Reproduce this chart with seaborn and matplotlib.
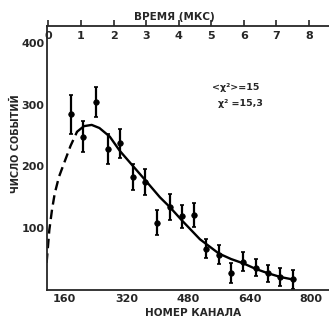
import matplotlib
matplotlib.use("Agg")
import matplotlib.pyplot as plt
import numpy as np
import pandas as pd
import seaborn as sns

# ---- data ----
channels = [176, 208, 240, 272, 304, 336, 368, 400, 432, 464,
            496, 528, 560, 592, 624, 656, 688, 720, 752]
counts = [284, 248, 304, 228, 237, 182, 175, 109, 135, 119,
          121, 67, 57, 28, 46, 36, 27, 21, 17]
errors = [31, 25, 25, 24, 24, 21, 21, 20, 21, 19,
          19, 16, 15, 16, 15, 14, 14, 14, 15]

fit_dash_channel = [113, 120, 127, 134, 145, 160, 175, 192]
fit_dash_value = [44, 97, 130, 156, 183, 208, 233, 256]
fit_solid_channel = [192, 210, 230, 250, 277, 303, 342, 370, 407, 433,
                     465, 511, 560, 592, 624, 656, 688, 720, 752]
fit_solid_value = [256, 265, 267, 262, 248, 225, 197, 177, 150, 134,
                   112, 82, 59, 50, 43, 34, 27, 21, 17]

x_ticks = [160, 320, 480, 640, 800]
y_ticks = [100, 200, 300, 400]
time_ticks = [0, 1, 2, 3, 4, 5, 6, 7, 8]

sns.set_style("white")
plt.rcParams["font.family"] = ["DejaVu Sans"]

pts = pd.DataFrame({"channel": channels, "count": counts, "err": errors})
dash = pd.DataFrame({"channel": fit_dash_channel, "value": fit_dash_value})
solid = pd.DataFrame({"channel": fit_solid_channel, "value": fit_solid_value})

fig = plt.figure(figsize=(3.29, 3.20), dpi=100)
ax = fig.add_axes([0.1429, 0.0938, 0.8571, 0.825])

sns.lineplot(data=dash, x="channel", y="value", ax=ax, color="black",
             linewidth=1.7, linestyle=(0, (4, 2.2)), sort=False)
sns.lineplot(data=solid, x="channel", y="value", ax=ax, color="black",
             linewidth=1.7, sort=False)
ax.errorbar(pts["channel"], pts["count"], yerr=pts["err"], fmt="none",
            ecolor="black", elinewidth=1.6, capsize=1.5, capthick=1.2)
sns.scatterplot(data=pts, x="channel", y="count", ax=ax, color="black",
                s=16, edgecolor="black", linewidth=0.5, zorder=5)

ax.set_xlim(114, 846)
ax.set_ylim(0, 427)
ax.set_xticks(x_ticks)
ax.set_yticks(y_ticks)
ax.set_xlabel("")
ax.set_ylabel("")
ax.spines["right"].set_visible(False)
ax.spines["top"].set_visible(False)
for s in ["left", "bottom"]:
    ax.spines[s].set_linewidth(1.3)
ax.tick_params(axis="y", direction="in", length=4, width=1.2, pad=2,
               labelsize=8)
ax.tick_params(axis="x", direction="in", length=4, width=1.2, pad=3,
               labelsize=8)
for lbl in ax.get_xticklabels() + ax.get_yticklabels():
    lbl.set_fontweight("bold")

c0, per_us = 117.4, 84.6
sec = ax.secondary_xaxis("top", functions=(lambda c: (c - c0) / per_us,
                                            lambda t: t * per_us + c0))
sec.set_xticks(time_ticks)
sec.spines["top"].set_linewidth(1.3)
sec.tick_params(direction="out", length=4, width=1.2, pad=-14.5, labelsize=8)
for lbl in sec.get_xticklabels():
    lbl.set_fontweight("bold")

fig.text(174 / 329, 1 - 16.5 / 320, "ВРЕМЯ (МКС)", ha="center", va="center",
         fontsize=7.5, fontweight="bold")
fig.text(193 / 329, 1 - 312.5 / 320, "НОМЕР КАНАЛА", ha="center", va="center",
         fontsize=7.5, fontweight="bold")
fig.text(16 / 329, 1 - 144 / 320, "ЧИСЛО СОБЫТИЙ", ha="center", va="center",
         rotation=90, fontsize=7, fontweight="bold")
fig.text(212 / 329, 1 - 88 / 320, "<χ²>=15", ha="left", va="center",
         fontsize=6.8, fontweight="bold")
fig.text(218 / 329, 1 - 103 / 320, "χ² =15,3", ha="left", va="center",
         fontsize=6.8, fontweight="bold")

fig.savefig("out.png", dpi=100)
